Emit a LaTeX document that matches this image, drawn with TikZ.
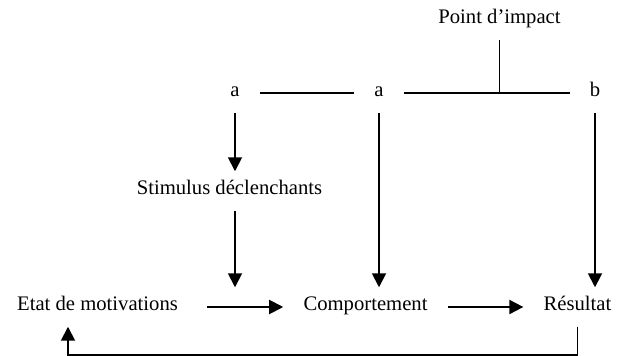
\documentclass[tikz,border=0pt]{standalone}
\usepackage{fontspec}
\setmainfont{Liberation Serif}
\usetikzlibrary{arrows.meta, positioning}

\begin{document}
\begin{tikzpicture}[
    x=0.75pt, y=-0.75pt,
    lbl/.style   = {inner xsep=15pt, inner ysep=10pt, text height=0.7em,
                    text depth=0.22em, font=\fontsize{15.5}{18}\selectfont},
    line/.style  = {line width=1.4pt},
    arrow/.style = {-{Triangle[length=10.5pt,width=10.5pt]}, line width=1.4pt},
]
\useasboundingbox (0,0) rectangle (620,356);

% ── Top row ─────────────────────────────────────────────────────
\node[lbl] (imp) at (499.5,20) {Point d’impact};
\node[lbl] (a1)  at (235,93)   {a};
\node[lbl] (a2)  at (379,93)   {a};
\node[lbl] (b)   at (595,93)   {b};

\node[lbl] (stim) at (229.5,191) {Stimulus déclenchants};

% ── Bottom row ──────────────────────────────────────────────────
\node[lbl] (etat) at (97.5,307)  {Etat de motivations};
\node[lbl] (comp) at (365.5,307) {Comportement};
\node[lbl] (res)  at (577.5,307) {Résultat};

\coordinate (jn) at (imp |- a2);
\coordinate (fb) at (68,355);

% ── Lines ───────────────────────────────────────────────────────
\draw[line] (a1) -- (a2);
\draw[line] (a2) -- (b);
\draw[line] (imp) -- (jn);

% ── Arrows ──────────────────────────────────────────────────────
\draw[arrow] (a1) -- (a1 |- stim.north);
\draw[arrow] (a1 |- stim.south) -- (a1 |- comp.north);
\draw[arrow] (a2) -- (a2 |- comp.north);
\draw[arrow] (b) -- (b |- res.north);

\draw[arrow, shorten <=7pt] (etat) -- (comp);
\draw[arrow] (comp) -- (res);

\draw[arrow] (res.south) |- (fb) -- (fb |- etat.south);

\end{tikzpicture}
\end{document}
